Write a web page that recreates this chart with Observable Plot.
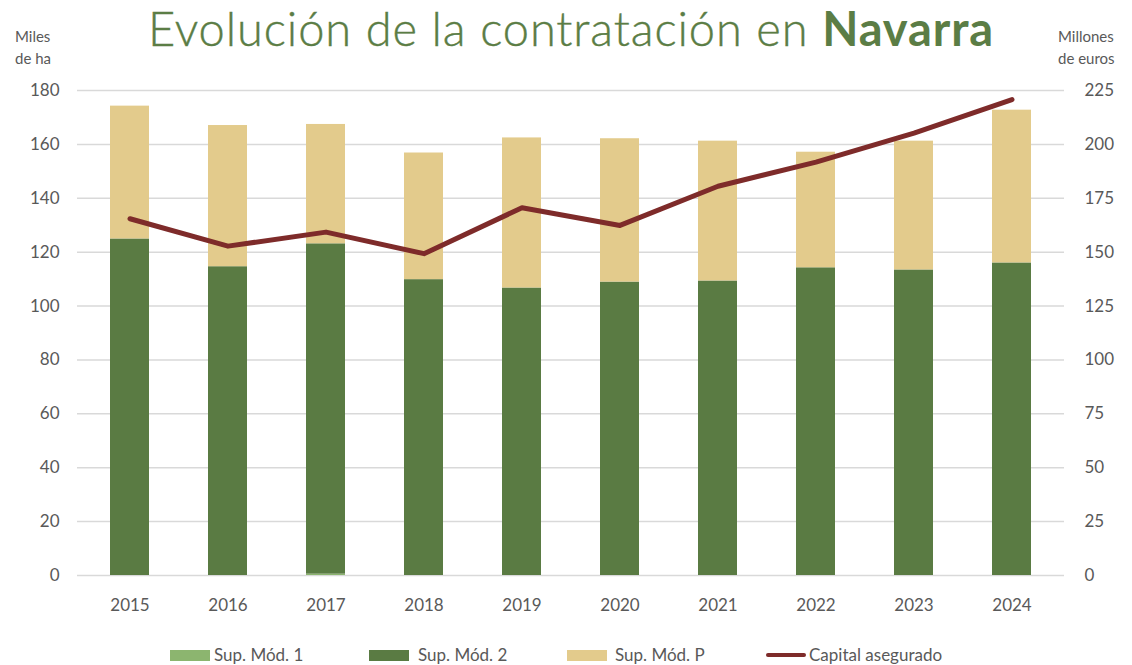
<!DOCTYPE html>
<html><head><meta charset="utf-8">
<script src="https://cdn.jsdelivr.net/npm/d3@7"></script>
<script src="https://cdn.jsdelivr.net/npm/@observablehq/plot@0.6"></script>
<style>
body{margin:0;background:#fff;}
#wrap{position:relative;width:1132px;height:665px;font-family:Lato,sans-serif;color:#595959;overflow:hidden;}
#title{position:absolute;left:0;width:1142px;top:3px;text-align:center;font-size:47px;line-height:50px;color:#5b7d45;font-weight:300;letter-spacing:0.9px;white-space:nowrap;-webkit-text-stroke:0.4px #5b7d45;}
#title b{font-weight:700;-webkit-text-stroke:0;}
.atitle{position:absolute;font-size:15px;line-height:22px;color:#595959;}
#chart{position:absolute;left:0;top:0;}
.lg{position:absolute;font-size:17px;line-height:20px;top:645px;color:#595959;white-space:nowrap;}
.sw{position:absolute;height:11px;width:40px;top:650px;}
</style></head>
<body>
<div id="wrap">
  <div id="chart"></div>
  <div id="title">Evolución de la contratación en <b>Navarra</b></div>
  <div class="atitle" style="left:15px;top:25px;">Miles<br>de ha</div>
  <div class="atitle" style="left:1058px;top:25px;">Millones<br>de euros</div>
  <div id="legend"></div>
</div>
<script>
const years = ["2015","2016","2017","2018","2019","2020","2021","2022","2023","2024"];
const series = ["Sup. Mód. 1","Sup. Mód. 2","Sup. Mód. P"];
const seriesColors = ["#8cb56f","#5a7b43","#e3cb8c"];
const supMod1 = [0, 0, 0.5, 0, 0, 0, 0, 0, 0, 0];
const supMod2 = [124.9, 114.6, 122.6, 109.8, 106.7, 108.9, 109.3, 114.2, 113.4, 116.0];
const supModP = [49.3, 52.4, 44.3, 47.0, 55.7, 53.2, 51.9, 42.9, 47.8, 56.7];
const capital = [165.5, 152.8, 159.3, 149.3, 170.6, 162.4, 180.6, 191.8, 205.2, 220.8];
const leftTicks = [0,20,40,60,80,100,120,140,160,180];
const rightTicks = [0,25,50,75,100,125,150,175,200,225];
const lineColor = "#7e2b2a";
const lineName = "Capital asegurado";

const ratio = 180/225;
const tidy = [];
[supMod1, supMod2, supModP].forEach((arr, si) => arr.forEach((v, i) => tidy.push({year: years[i], serie: series[si], value: v})));
const lineData = capital.map((v, i) => ({year: years[i], v}));

const plot = Plot.plot({
  width: 1132, height: 625,
  marginTop: 90, marginBottom: 50, marginLeft: 77, marginRight: 68,
  style: {fontFamily: "Lato, sans-serif", fontSize: "17px", color: "#595959", background: "transparent", overflow: "visible"},
  x: {type: "band", domain: years, paddingInner: 0.6, paddingOuter: 0.3, label: null},
  y: {domain: [0, 180], label: null},
  color: {domain: series, range: seriesColors},
  marks: [
    Plot.gridY(leftTicks, {stroke: "#d9d9d9", strokeOpacity: 1, strokeWidth: 1.5}),
    Plot.barY(tidy, {x: "year", y: "value", fill: "serie", order: series}),
    Plot.line(lineData, {x: "year", y: d => d.v * ratio, stroke: lineColor, strokeWidth: 5, strokeLinecap: "round", strokeLinejoin: "round"}),
    Plot.axisY(leftTicks, {anchor: "left", tickSize: 0, tickPadding: 18, label: null, fill: "#595959"}),
    Plot.axisY(rightTicks.map(d => d * ratio), {anchor: "right", tickSize: 0, tickPadding: 20, label: null, tickFormat: d => String(Math.round(d / ratio)), fill: "#595959"}),
    Plot.axisX({tickSize: 0, tickPadding: 23, label: null, fill: "#595959"})
  ]
});
document.getElementById("chart").appendChild(plot);

// legend
const lg = document.getElementById("legend");
const items = [
  {type: "rect", color: seriesColors[0], label: series[0], sx: 170, tx: 214},
  {type: "rect", color: seriesColors[1], label: series[1], sx: 369, tx: 418},
  {type: "rect", color: seriesColors[2], label: series[2], sx: 567, tx: 615},
  {type: "line", color: lineColor, label: lineName, sx: 766, tx: 809}
];
items.forEach(it => {
  const s = document.createElement("div");
  s.className = "sw";
  s.style.left = it.sx + "px";
  s.style.background = it.color;
  if (it.type === "line") { s.style.height = "4px"; s.style.top = "653px"; s.style.borderRadius = "2px"; }
  lg.appendChild(s);
  const t = document.createElement("div");
  t.className = "lg";
  t.style.left = it.tx + "px";
  t.textContent = it.label;
  lg.appendChild(t);
});
</script>
</body></html>
